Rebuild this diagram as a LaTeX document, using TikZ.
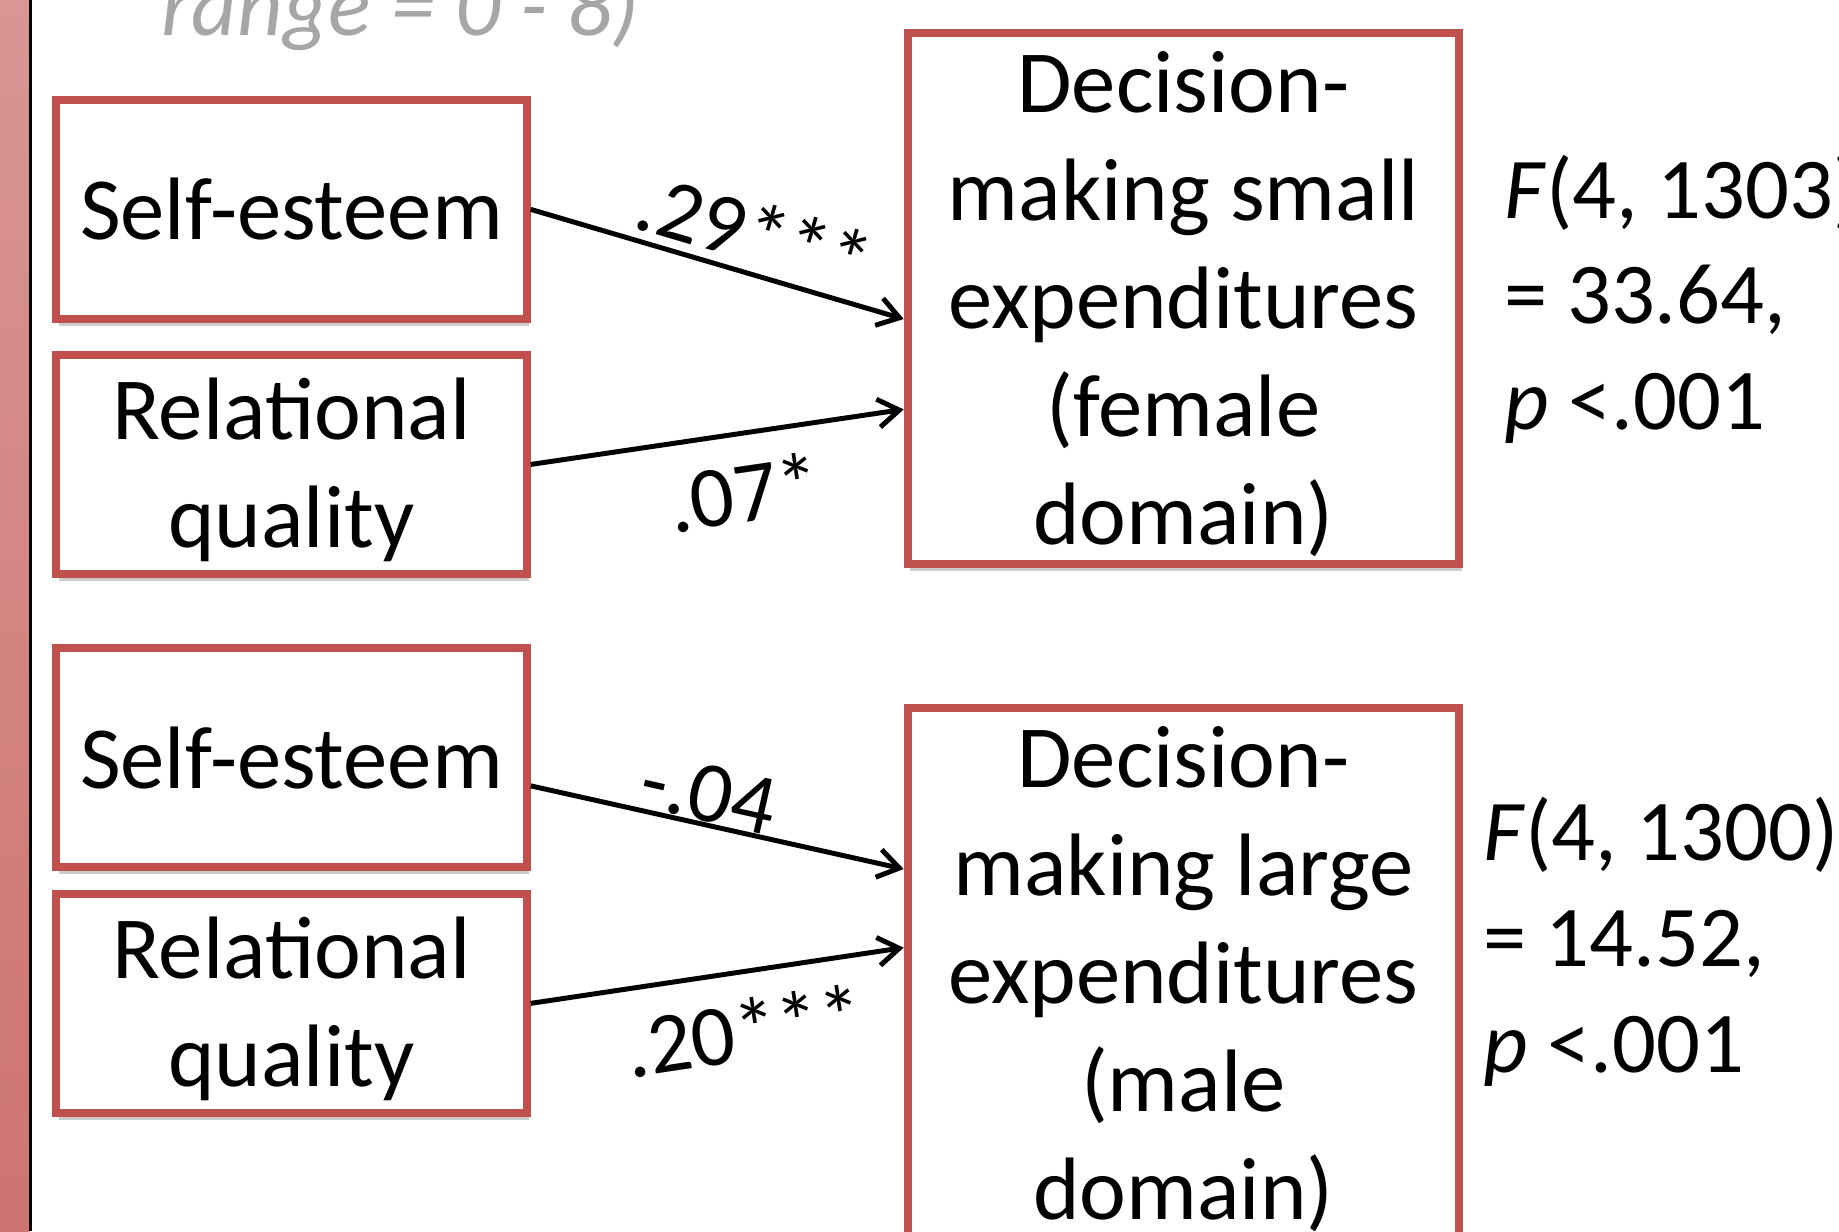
\documentclass[tikz,border=0pt]{standalone}
\usepackage{fontspec}
\setmainfont{Carlito}
\usetikzlibrary{arrows.meta,shadows}
\definecolor{boxred}{HTML}{C0504D}
\definecolor{bartop}{HTML}{D99694}
\definecolor{barbot}{HTML}{CD7470}
\definecolor{capgray}{HTML}{A6A6A6}
\newcommand{\topgap}{\rule{0pt}{17.5pt}}
\begin{document}
\begin{tikzpicture}[
  x=0.01cm, y=-0.01cm,
  box/.style={draw=boxred, line width=1.9pt, fill=white, align=center, inner sep=0pt,
    font=\fontsize{21.5}{26.2}\selectfont,
    drop shadow={opacity=0.4, shadow xshift=0.02cm, shadow yshift=-0.06cm}},
  srcbox/.style={box, minimum width=4.01cm, minimum height=1.87cm},
  outbox/.style={box, minimum width=4.70cm, minimum height=4.53cm},
  arr/.style={line width=1.2pt, -{Straight Barb[length=0.18cm, width=0.24cm]}},
  lbl/.style={font=\fontsize{21}{25}\selectfont, sloped, inner sep=2pt},
  stat/.style={align=left, anchor=west, inner sep=0pt, font=\fontsize{21}{25.6}\selectfont}
]
\useasboundingbox (0,0) rectangle (1568,1050);
\clip (0,0) rectangle (1568,1050);

% side bar and heading
\shade[top color=bartop, bottom color=barbot] (0,0) rectangle (25,1050);
\draw[line width=0.02cm] (26,0) -- (26,1050);
\node[anchor=base west, text=capgray, inner sep=0pt,
  font=\fontsize{21.5}{26}\selectfont\itshape] (rng) at (137,30) {range = 0 - 8)};

% female domain
\node[srcbox] (se1) at (248.5,178.5) {Self-esteem};
\node[srcbox] (rq1) at (248.5,396) {\topgap Relational\\quality};
\node[outbox] (dm1) at (1009,254.5) {\topgap Decision-\\making small\\expenditures\\(female\\domain)};
\node[stat] (st1) at (1282,255) {\textit{F}(4, 1303)\\= 33.64,\\\textit{p} <.001};

\draw[arr] (se1.east) -- ([yshift=-0.175cm]dm1.west) node[lbl, above, pos=0.57] {.29***};
\draw[arr] (rq1.east) -- ([yshift=-0.945cm]dm1.west) node[lbl, below, pos=0.55, inner sep=6pt] {.07*};

% male domain
\node[srcbox] (se2) at (248.5,646) {Self-esteem};
\node[srcbox] (rq2) at (248.5,855.5) {\topgap Relational\\quality};
\node[outbox] (dm2) at (1009,830) {\topgap Decision-\\making large\\expenditures\\(male\\domain)};
\node[stat] (st2) at (1264,803) {\textit{F}(4, 1300)\\= 14.52,\\\textit{p} <.001};

\draw[arr] ([yshift=-0.24cm]se2.east) -- ([yshift=0.89cm]dm2.west) node[lbl, above, pos=0.46, inner sep=0pt] {-.04};
\draw[arr] (rq2.east) -- ([yshift=0.22cm]dm2.west) node[lbl, below, pos=0.55, inner sep=6pt] {.20***};
\end{tikzpicture}
\end{document}
